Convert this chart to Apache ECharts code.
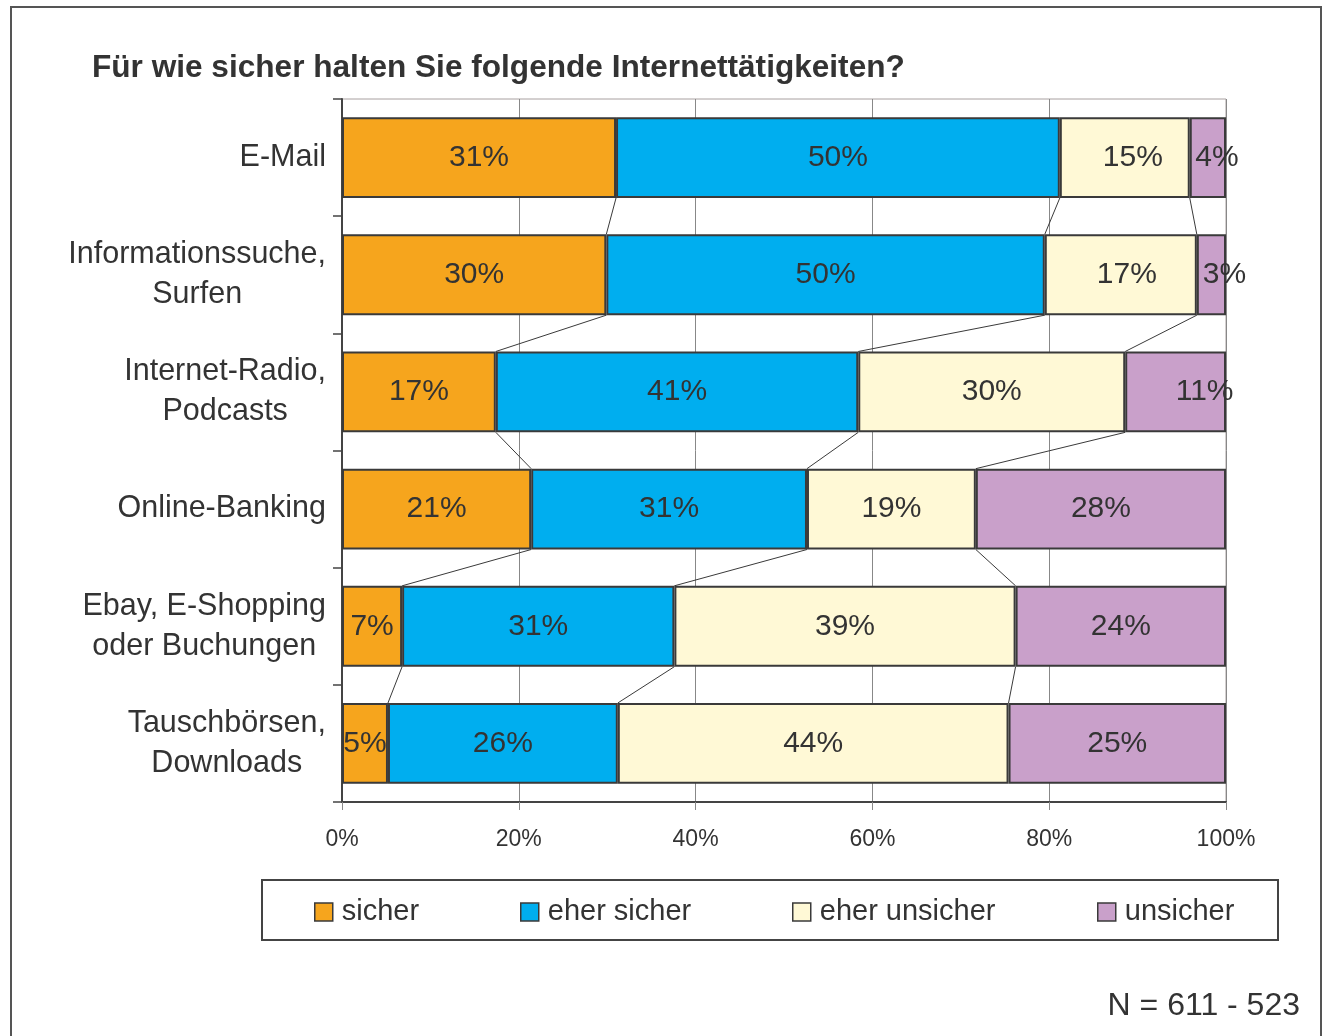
<!DOCTYPE html>
<html>
<head>
<meta charset="utf-8">
<script src="https://cdn.jsdelivr.net/npm/echarts@6/dist/echarts.min.js"></script>
<style>
  html, body { margin: 0; padding: 0; background: #ffffff; }
  #chart { width: 1326px; height: 1036px; }
</style>
</head>
<body>
<div id="chart"></div>
<script>
// ---------- DATA ----------
const titleText = 'Für wie sicher halten Sie folgende Internettätigkeiten?';
const noteText = 'N = 611 - 523';
const categories = [
  'E-Mail',
  'Informationssuche,\nSurfen',
  'Internet-Radio,\nPodcasts',
  'Online-Banking',
  'Ebay, E-Shopping\noder Buchungen',
  'Tauschbörsen,\nDownloads'
];
const seriesNames = ['sicher', 'eher sicher', 'eher unsicher', 'unsicher'];
const sicher       = [31.0, 29.9, 17.4, 21.4,  6.8,  5.2];
const eherSicher   = [50.2, 49.6, 41.0, 31.2, 30.8, 26.0];
const eherUnsicher = [14.7, 17.2, 30.2, 19.1, 38.6, 44.2];
const unsicher     = [ 4.1,  3.3, 11.4, 28.3, 23.8, 24.6];
const xTicks = [0, 20, 40, 60, 80, 100];

// ---------- STYLE ----------
const FONT = "'Liberation Sans', Arial, Helvetica, sans-serif";
const TXT = '#333333';
const colors = ['#F6A51D', '#00AEEF', '#FFF9D6', '#C9A0CA'];
const BAR_GAP = 0.31;
// label nudges (pixels) for labels drawn off-centre in the reference: "seriesIdx,catIdx"
const labelNudge = {
  '2,0': 8, '3,0': 9,
  '2,1': 6, '3,1': 13,
  '3,2': 29
};

const allSeries = [sicher, eherSicher, eherUnsicher, unsicher];

const barSeries = allSeries.map((vals, si) => ({
  name: seriesNames[si],
  type: 'bar',
  stack: 'total',
  barCategoryGap: (BAR_GAP * 100) + '%',
  itemStyle: { color: colors[si], borderColor: '#3a3a3a', borderWidth: 2 },
  label: {
    show: true,
    position: 'inside',
    formatter: p => Math.round(p.value) + '%',
    fontFamily: FONT,
    fontSize: 30,
    color: TXT
  },
  emphasis: { disabled: true },
  data: vals.map((v, ci) => {
    const n = labelNudge[si + ',' + ci];
    return n ? { value: v, label: { offset: [n, 0] } } : v;
  })
}));

// connector lines between consecutive bars at each stack boundary
const connectorData = [];
for (let ci = 0; ci < categories.length - 1; ci++) {
  let c1 = 0, c2 = 0;
  for (let si = 0; si < allSeries.length - 1; si++) {
    c1 += allSeries[si][ci];
    c2 += allSeries[si][ci + 1];
    connectorData.push([c1, c2, ci]);
  }
}

const connectorSeries = {
  name: 'connectors',
  type: 'custom',
  silent: true,
  z: 3,
  encode: { x: [0, 1], y: 2 },
  renderItem: function (params, api) {
    const ci = api.value(2);
    const p1 = api.coord([api.value(0), ci]);
    const p2 = api.coord([api.value(1), ci + 1]);
    const half = api.size([0, 1])[1] * (1 - BAR_GAP) / 2;
    return {
      type: 'line',
      shape: { x1: p1[0], y1: p1[1] + half, x2: p2[0], y2: p2[1] - half },
      style: { stroke: '#3a3a3a', lineWidth: 1 }
    };
  },
  data: connectorData
};

const legendLefts = [314, 520, 792, 1097];
const legends = seriesNames.map((n, i) => ({
  data: [n],
  left: legendLefts[i],
  top: 897,
  padding: 0,
  icon: 'rect',
  itemWidth: 18,
  itemHeight: 18,
  itemStyle: { borderColor: '#3a3a3a', borderWidth: 1.5 },
  selectedMode: false,
  textStyle: { fontFamily: FONT, fontSize: 29, color: TXT, lineHeight: 30, padding: [0, 0, 0, 4] }
}));

const chart = echarts.init(document.getElementById('chart'), null, { renderer: 'canvas' });
chart.setOption({
  backgroundColor: '#ffffff',
  animation: false,
  title: {
    text: titleText,
    left: 92,
    top: 52,
    padding: 0,
    textStyle: { fontFamily: FONT, fontSize: 31.6, fontWeight: 'bold', color: TXT }
  },
  legend: legends,
  grid: {
    left: 342, right: 100, top: 99, bottom: 234,
    show: true, borderColor: '#a8a0a0', borderWidth: 1, backgroundColor: 'transparent'
  },
  xAxis: {
    type: 'value',
    min: 0, max: 100, interval: 20,
    axisLine: { show: true, lineStyle: { color: '#444', width: 2 } },
    axisTick: { show: true, length: 8, lineStyle: { color: '#888' } },
    splitLine: { show: true, lineStyle: { color: '#888', width: 1 } },
    axisLabel: {
      formatter: v => xTicks.includes(v) ? v + '%' : '',
      fontFamily: FONT, fontSize: 23, color: TXT, margin: 26
    }
  },
  yAxis: {
    type: 'category',
    inverse: true,
    data: categories,
    axisLine: { show: true, lineStyle: { color: '#444', width: 2 } },
    axisTick: { show: true, length: 9, lineStyle: { color: '#444', width: 1.5 } },
    axisLabel: {
      align: 'right',
      margin: 16,
      formatter: v => v.split('\n').map(s => '{c|' + s + '}').join('\n'),
      rich: {
        c: { align: 'center', fontFamily: FONT, fontSize: 30.5, lineHeight: 40, color: TXT }
      }
    }
  },
  graphic: [
    {
      type: 'rect', silent: true, z: -1,
      shape: { x: 11, y: 7, width: 1310, height: 1100 },
      style: { fill: 'none', stroke: '#555', lineWidth: 2 }
    },
    {
      type: 'rect', silent: true, z: -1,
      shape: { x: 262, y: 880, width: 1016, height: 60 },
      style: { fill: 'none', stroke: '#444', lineWidth: 2 }
    },
    {
      type: 'text', silent: true,
      right: 26, top: 990,
      style: { text: noteText, fontFamily: FONT, fontSize: 32, fill: TXT }
    }
  ],
  series: barSeries.concat([connectorSeries])
});
</script>
</body>
</html>
